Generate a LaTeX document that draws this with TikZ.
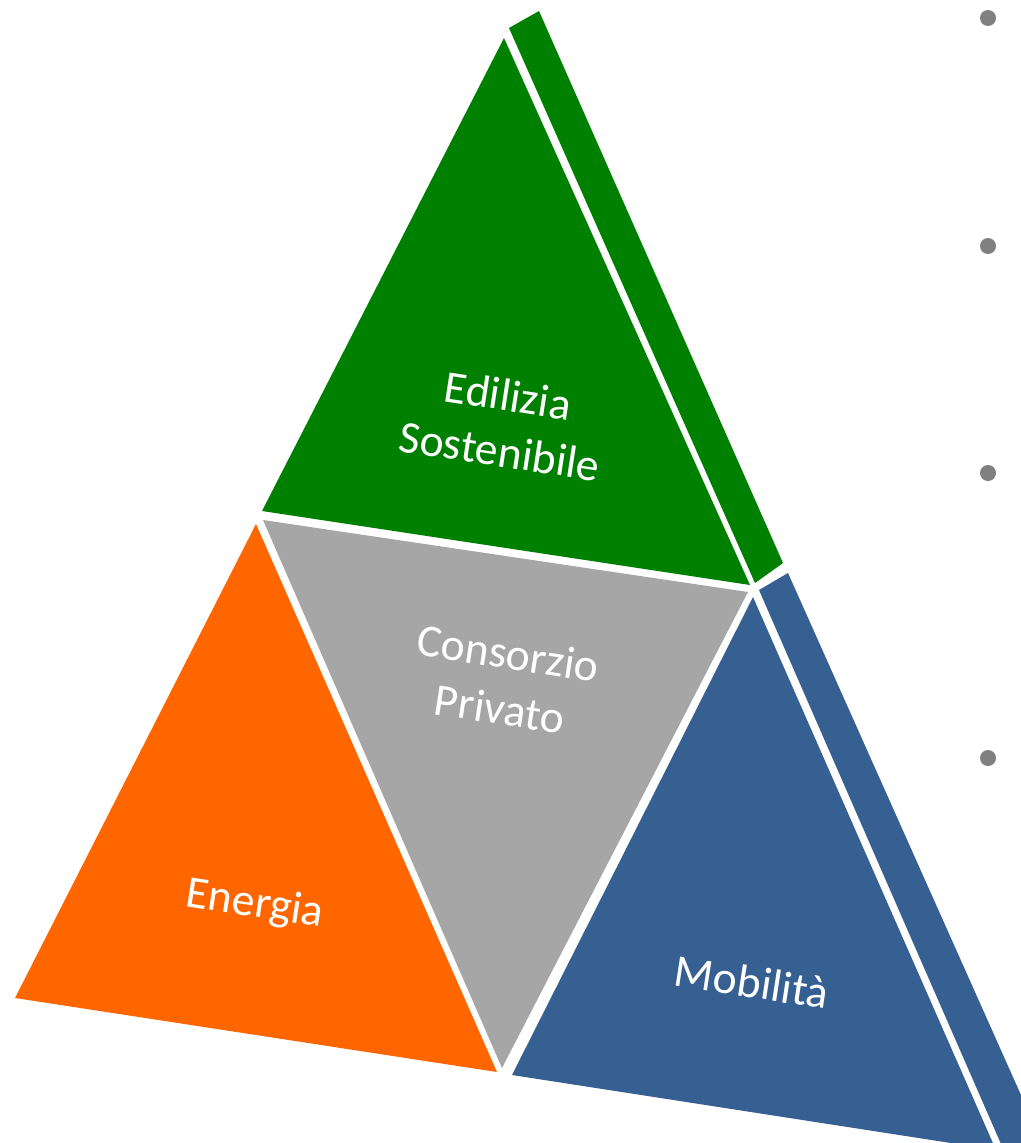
\documentclass[tikz,border=0pt]{standalone}
\usepackage{fontspec}
\setmainfont{Carlito}
\usepackage{xcolor}
\usepackage{tikz}

\definecolor{edgreen}{RGB}{0,128,0}
\definecolor{enorange}{RGB}{255,102,0}
\definecolor{cpgrey}{RGB}{166,166,166}
\definecolor{mobblue}{RGB}{55,96,146}
\definecolor{dotgrey}{RGB}{128,128,128}

\begin{document}
\begin{tikzpicture}[x=0.02cm,y=-0.02cm,
  facetext/.style={text=white,font=\fontsize{26}{32}\selectfont,align=center,rotate=-8.7}]

\useasboundingbox (0,0) rectangle (1021,1143);
\clip (0,0) rectangle (1021,1143);

% triangles
\fill[edgreen] (504,38) -- (262,511) -- (750,585) -- cycle;
\fill[edgreen] (509,28) -- (539,11) -- (783,563) -- (755,583) -- cycle;
\fill[cpgrey] (263,520) -- (748,592) -- (502,1068) -- cycle;
\fill[enorange] (256,524) -- (15,998) -- (497,1072) -- cycle;
\fill[mobblue] (753,597) -- (512,1075) -- (996,1150) -- cycle;
\fill[mobblue] (759,590) -- (788,573) -- (1050,1160) -- (1008,1160) -- cycle;

% bullets
\fill[dotgrey] (988,18) circle (8);
\fill[dotgrey] (988,246) circle (8);
\fill[dotgrey] (988,473) circle (8);
\fill[dotgrey] (988,758) circle (8);

\node (ed) at (504,423) [facetext]{Edilizia\\Sostenibile};
\node (cp) at (504,681) [facetext]{Consorzio\\Privato};
\node (en) at (255,905) [facetext]{Energia};
\node (mo) at (752,982) [facetext]{Mobilità};

\end{tikzpicture}
\end{document}
